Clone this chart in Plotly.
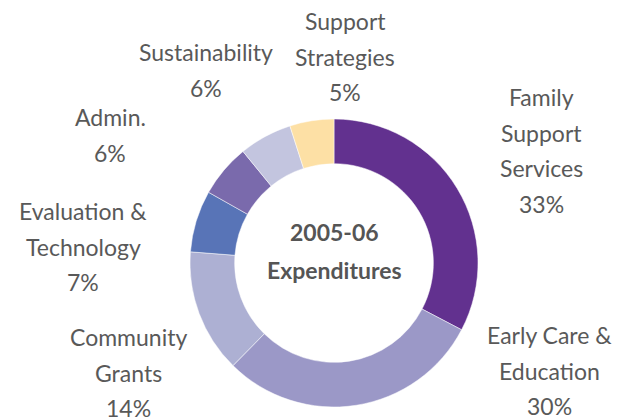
import plotly.graph_objects as go

categories = ["Family Support Services", "Early Care & Education", "Community Grants",
              "Evaluation & Technology", "Admin.", "Sustainability", "Support Strategies"]
values = [33, 30, 14, 7, 6, 6, 5]
label_lines = [["Family", "Support", "Services"], ["Early Care &", "Education"],
               ["Community", "Grants"], ["Evaluation &", "Technology"], ["Admin."],
               ["Sustainability"], ["Support", "Strategies"]]
colors = ["#62318f", "#9b98c7", "#adb0d3", "#5874b7", "#7a6aac", "#c3c5df", "#fde0a5"]

# page body has an 8px margin; layout constants are in reference pixels
OFF = 8
W, H = 629 - OFF, 419 - OFF
label_pos = [(541, 97), (549, 335), (128, 337), (83, 211), (110, 117), (206, 52), (345, 21)]
LINE_H = 35.5
FONT = "Lato"
GRAY = "#595959"
CX, CY, R = 334, 263, 144


def px(x):
    return (x - OFF) / W


def py(y):
    return 1 - (y - OFF) / H


fig = go.Figure(go.Pie(
    labels=categories, values=values, hole=0.69, sort=False, direction="clockwise",
    rotation=0, textinfo="none", hoverinfo="label+percent",
    marker=dict(colors=colors, line=dict(color="white", width=0.5)),
    domain=dict(x=[px(CX - R), px(CX + R)], y=[py(CY + R), py(CY - R)]),
    showlegend=False,
))

annotations = []
for lines, v, (cx, cy) in zip(label_lines, values, label_pos):
    for i, t in enumerate(lines + [f"{v}%"]):
        annotations.append(dict(x=px(cx), y=py(cy + i * LINE_H), xref="paper", yref="paper",
                                text=t, showarrow=False, xanchor="center", yanchor="middle",
                                font=dict(family=FONT, size=23, color=GRAY)))
for i, t in enumerate(["2005-06", "Expenditures"]):
    annotations.append(dict(x=px(CX), y=py(232 + i * 38), xref="paper", yref="paper",
                            text=t, showarrow=False, xanchor="center", yanchor="middle",
                            font=dict(family=FONT, size=23, color="#555555", weight="bold")))

fig.update_layout(width=W, height=H, margin=dict(l=0, r=0, t=0, b=0),
                  paper_bgcolor="white", plot_bgcolor="white", annotations=annotations)
fig.write_html("out.html")
